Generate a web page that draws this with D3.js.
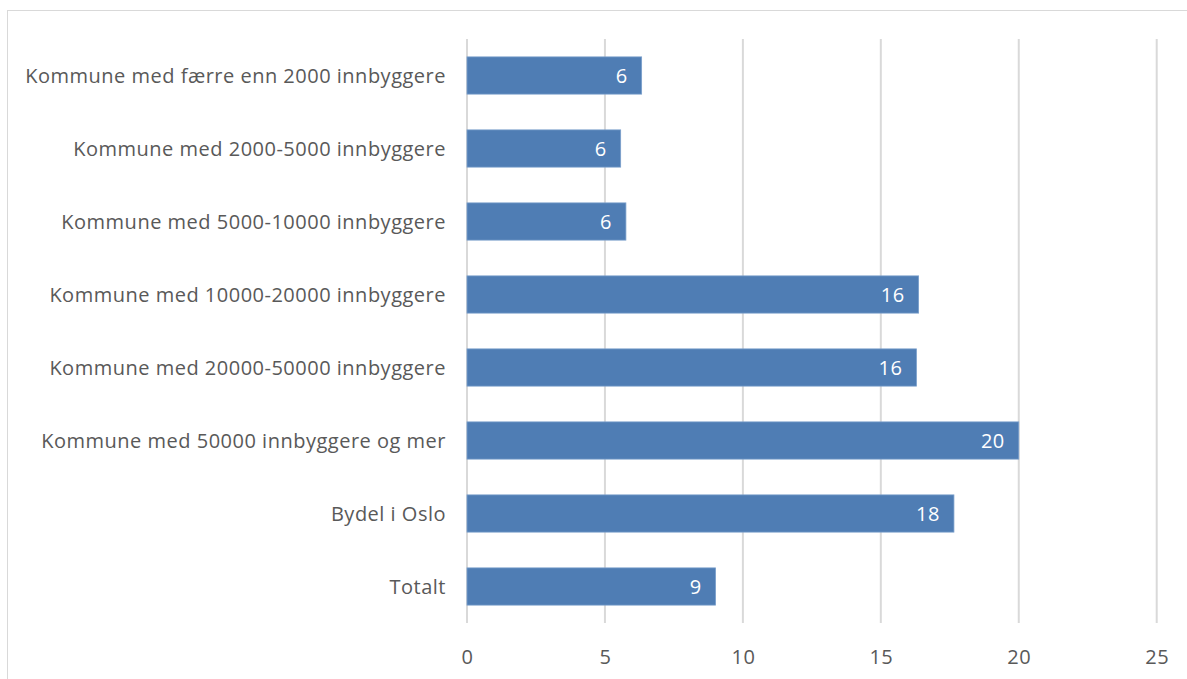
<!DOCTYPE html>
<html><head><meta charset="utf-8">
<script src="https://cdn.jsdelivr.net/npm/d3@7"></script>
<style>
html,body{margin:0;padding:0;background:#fff;}
svg{display:block;font-family:"Open Sans",sans-serif;}
</style></head>
<body>
<svg id="chart" width="1187" height="679"></svg>
<script>
const categories = [
  "Kommune med færre enn 2000 innbyggere",
  "Kommune med 2000-5000 innbyggere",
  "Kommune med 5000-10000 innbyggere",
  "Kommune med 10000-20000 innbyggere",
  "Kommune med 20000-50000 innbyggere",
  "Kommune med 50000 innbyggere og mer",
  "Bydel i Oslo",
  "Totalt"
];
const values = [6.33, 5.57, 5.76, 16.37, 16.29, 20.0, 17.65, 9.01];
const labels = ["6", "6", "6", "16", "16", "20", "18", "9"];
const xTicks = [0, 5, 10, 15, 20, 25];

(function () {
const svg = d3.select("#chart");
const W = 1187, H = 679;
const pLeft = 467, pRight = 1156.7, pTop = 39, pBottom = 623;

// chart border
svg.append("rect").attr("x", 7.5).attr("y", 10.5).attr("width", W + 10).attr("height", H + 10)
  .attr("fill", "none").attr("stroke", "#d9d9d9").attr("stroke-width", 1);

const x = d3.scaleLinear().domain([0, 25]).range([pLeft, pRight]);
const y = d3.scaleBand().domain(categories).range([pTop, pBottom]).paddingInner(0.49).paddingOuter(0.245);

// gridlines
svg.append("g").selectAll("line").data(xTicks).join("line")
  .attr("x1", d => x(d)).attr("x2", d => x(d)).attr("y1", pTop).attr("y2", pBottom)
  .attr("stroke", "#d9d9d9").attr("stroke-width", 2);

// bars
svg.append("g").selectAll("rect").data(values).join("rect")
  .attr("x", x(0)).attr("y", (d, i) => y(categories[i]))
  .attr("width", d => x(d) - x(0)).attr("height", y.bandwidth())
  .attr("fill", "#4f7db4").attr("stroke", "#7a9fcb").attr("stroke-width", 0.8);

// data labels
svg.append("g").selectAll("text").data(values).join("text")
  .attr("x", d => x(d) - 14).attr("y", (d, i) => y(categories[i]) + y.bandwidth() / 2)
  .attr("dy", "0.36em").attr("text-anchor", "end")
  .attr("fill", "#fff").attr("font-size", 20).attr("letter-spacing", 0.5)
  .text((d, i) => labels[i]);

// category axis labels
svg.append("g").selectAll("text").data(categories).join("text")
  .attr("x", 446).attr("y", d => y(d) + y.bandwidth() / 2)
  .attr("dy", "0.36em").attr("text-anchor", "end")
  .attr("fill", "#595959").attr("font-size", 20).attr("letter-spacing", 0.5)
  .text(d => d);

// x axis
const xAxis = d3.axisBottom(x).tickValues(xTicks).tickSize(0).tickPadding(0);
const gx = svg.append("g").attr("transform", `translate(0,${pBottom})`).call(xAxis);
gx.select(".domain").remove();
gx.selectAll("text").attr("font-size", 20).attr("fill", "#595959").attr("letter-spacing", 0.5)
  .attr("font-family", "Open Sans, sans-serif").attr("dy", null).attr("y", 41);
})();
</script>
</body></html>
